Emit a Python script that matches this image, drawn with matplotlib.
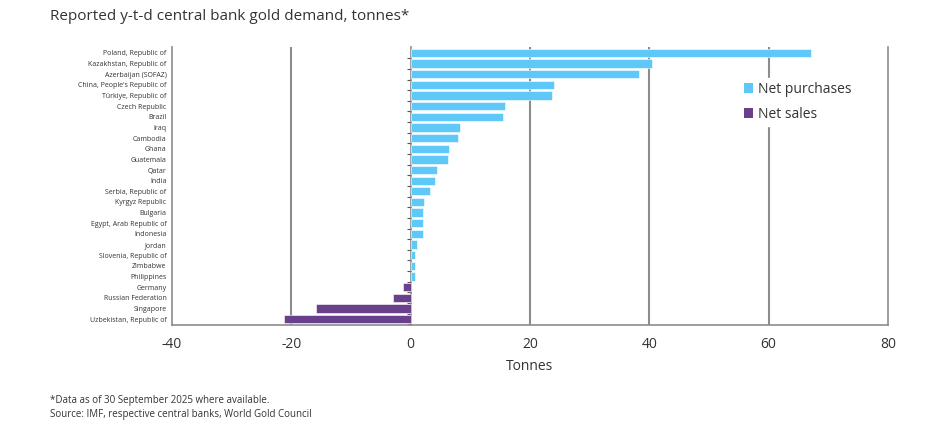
import numpy as np
import matplotlib.pyplot as plt
from matplotlib.patches import Patch

plt.rcParams['font.family'] = ['Open Sans', 'DejaVu Sans']

countries = ["Poland, Republic of", "Kazakhstan, Republic of", "Azerbaijan (SOFAZ)",
             "China, People's Republic of", "Türkiye, Republic of", "Czech Republic",
             "Brazil", "Iraq", "Cambodia", "Ghana", "Guatemala", "Qatar", "India",
             "Serbia, Republic of", "Kyrgyz Republic", "Bulgaria", "Egypt, Arab Republic of",
             "Indonesia", "Jordan", "Slovenia, Republic of", "Zimbabwe", "Philippines",
             "Germany", "Russian Federation", "Singapore", "Uzbekistan, Republic of"]
tonnes = [67.1, 40.5, 38.2, 24.0, 23.7, 15.8, 15.5, 8.3, 8.0, 6.5, 6.2, 4.5, 4.0,
          3.3, 2.2, 2.1, 2.0, 2.0, 1.0, 0.8, 0.8, 0.8, -1.3, -3.0, -15.8, -21.2]
xticks = [-40, -20, 0, 20, 40, 60, 80]

blue = '#5EC8F8'
purple = '#6A3F8C'
grid_col = '#8c8c8c'
text_col = '#333333'

vals = np.array(tonnes)
y = np.arange(len(countries))
colors = [blue if v >= 0 else purple for v in vals]

fig = plt.figure(figsize=(9.48, 4.32), dpi=100)
ax = fig.add_axes([0.1814, 0.2477, 0.7553, 0.6435])

for xv in [-20, 20, 40, 60]:
    ax.axvline(xv, color=grid_col, lw=1.5, zorder=0)

ax.barh(y, vals, height=0.78, color=colors, edgecolor='white', linewidth=0.4, zorder=2)

ax.set_xlim(-40, 80)
ax.set_ylim(len(countries) - 0.44, -0.56)
ax.set_xticks(xticks)
ax.set_xticklabels([str(t) for t in xticks], fontsize=10, color=text_col)
ax.tick_params(axis='x', length=0, pad=9)
ax.set_yticks(y)
ax.set_yticklabels(countries, fontsize=5, color=text_col)
ax.tick_params(axis='y', length=0, pad=4)
ax.set_xlabel('Tonnes', fontsize=10, color=text_col, labelpad=5)

for s in ['left', 'bottom', 'right']:
    ax.spines[s].set_color(grid_col)
    ax.spines[s].set_linewidth(1.2)
ax.spines['top'].set_visible(False)

# zero axis with category-boundary ticks
sec = ax.secondary_yaxis(1 / 3)
sec.set_yticks(np.arange(len(countries)) + 0.5)
sec.set_yticklabels([])
sec.tick_params(axis='y', length=3, width=0.8, color='#555555', direction='out')
sec.spines['left'].set_color(grid_col)
sec.spines['left'].set_linewidth(1.2)

handles = [Patch(facecolor=blue, label='Net purchases'),
           Patch(facecolor=purple, label='Net sales')]
leg = ax.legend(handles=handles, loc='upper left', bbox_to_anchor=(0.783, 0.915),
                frameon=True, fontsize=10, handlelength=0.7, handleheight=0.7,
                handletextpad=0.3, labelspacing=0.75, borderpad=0.3, fancybox=False)
leg.get_frame().set_edgecolor('white')
leg.get_frame().set_facecolor('white')
leg.get_frame().set_alpha(1)
for t in leg.get_texts():
    t.set_color(text_col)

fig.text(50 / 948, 1 - 17 / 432, 'Reported y-t-d central bank gold demand, tonnes*',
         fontsize=11, color=text_col, va='center', ha='left')
fig.text(50 / 948, 1 - 401 / 432, '*Data as of 30 September 2025 where available.',
         fontsize=7, color=text_col, va='center', ha='left')
fig.text(50 / 948, 1 - 414 / 432, 'Source: IMF, respective central banks, World Gold Council',
         fontsize=7, color=text_col, va='center', ha='left')

fig.savefig('out.png', dpi=100)
